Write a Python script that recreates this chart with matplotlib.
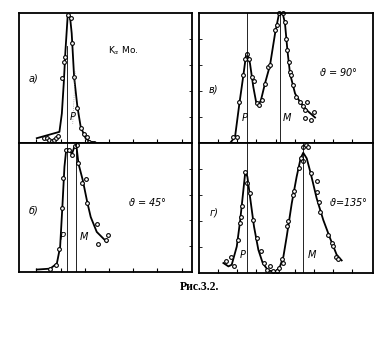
import matplotlib.pyplot as plt

plt.rcParams['font.family'] = ['DejaVu Sans']

# panel a) -- Kalpha Mo, primary line
a_pts_x = [14.1, 16.0, 17.5, 18.9, 20.2, 21.4, 22.7, 25.0, 26.0, 26.6, 28.5, 30.1, 30.8,
           31.8, 33.3, 35.7, 37.6, 39.1, 40.5, 42.0, 43.4]
a_pts_y = [4.1, 3.6, 2.3, 1.5, 2.8, 4.1, 5.4, 50.5, 62.5, 66.0, 98.5, 96.7, 77.2,
           51.0, 26.7, 11.3, 7.4, 4.4, 1.0, 0.0, 0.0]
a_line_x = [10.2, 23.3, 24.7, 25.8, 26.8, 28.1, 29.4, 30.4, 31.8, 33.7, 35.6, 38.5, 41.3]
a_line_y = [3.8, 8.7, 22.8, 46.0, 71.5, 98.5, 97.7, 84.6, 51.0, 28.0, 12.6, 3.6, 1.0]

# panel б) -- 45 deg
b_pts_x = [17.9, 21.4, 23.3, 24.9, 25.6, 27.0, 28.9, 30.8, 32.2, 33.3, 33.9, 36.2, 38.7,
           39.5, 44.9, 45.5, 51.6, 50.3]
b_pts_y = [2.6, 5.7, 18.2, 49.3, 72.6, 94.6, 94.6, 90.7, 97.7, 98.4, 84.7, 69.2, 71.8,
           53.6, 37.6, 22.1, 29.1, 24.6]
b_line_x = [10.2, 17.9, 21.8, 23.7, 25.0, 26.2, 27.2, 28.9, 30.5, 32.0, 33.1, 34.3, 36.8,
            39.5, 41.4, 44.9, 50.7]
b_line_y = [1.9, 2.6, 6.5, 19.4, 50.5, 81.6, 94.6, 95.3, 91.4, 97.4, 98.4, 84.2, 71.3,
            53.6, 42.7, 31.1, 23.3]

# panel в) -- 90 deg
c_pts_x = [19.7, 21.7, 23.2, 25.5, 26.4, 27.8, 28.9, 30.3, 31.6, 33.2, 34.5, 36.0, 37.9,
           39.5, 40.8, 43.7, 45.0, 46.2, 48.5, 49.4, 49.8, 50.8, 51.7, 52.3, 52.9, 54.2,
           55.7, 58.0, 59.6, 61.9, 60.9, 60.9, 64.2, 66.1]
c_pts_y = [4.8, 4.8, 31.8, 52.3, 64.4, 69.0, 64.4, 51.0, 47.9, 31.0, 29.2, 33.1, 45.9,
           58.7, 60.0, 87.4, 90.8, 100.0, 100.0, 93.3, 80.5, 71.5, 62.5, 54.8, 52.3, 44.6,
           35.6, 31.8, 28.5, 31.8, 25.9, 19.0, 18.2, 24.1]
c_line_x = [17.8, 20.7, 23.2, 25.5, 27.0, 27.8, 29.3, 31.2, 32.8, 34.1, 35.6, 37.9, 40.8,
            43.7, 45.8, 48.1, 49.4, 50.8, 52.3, 55.2, 58.0, 61.9, 66.7]
c_line_y = [0.0, 4.8, 30.5, 52.3, 67.7, 69.5, 61.3, 43.3, 31.8, 29.2, 33.1, 45.9, 60.0,
            84.4, 98.5, 100.0, 92.3, 71.5, 53.5, 38.2, 31.8, 25.4, 19.7]

# panel г) -- 135 deg
d_pts_x = [15.5, 18.2, 20.1, 22.6, 23.6, 24.0, 24.9, 26.4, 27.4, 29.3, 31.2, 33.2, 35.5,
           37.4, 39.3, 40.8, 42.7, 44.7, 46.2, 47.5, 48.5, 50.4, 51.3, 53.8, 54.6, 57.6,
           58.4, 59.9, 59.6, 61.5, 62.8, 64.2, 68.0, 68.0, 69.1, 69.5, 74.3, 76.3, 77.2,
           78.7, 80.1]
d_pts_y = [8.9, 12.7, 5.6, 25.6, 38.8, 43.0, 51.7, 78.0, 69.5, 61.9, 40.9, 26.9, 16.6,
           7.7, 2.6, 5.1, 1.2, 1.8, 3.8, 10.7, 7.7, 36.3, 40.4, 60.1, 63.4, 80.6,
           88.3, 86.4, 96.7, 98.5, 96.7, 76.7, 70.8, 62.6, 55.0, 47.3, 29.4, 23.0, 21.0,
           12.7, 10.7]
d_line_x = [14.0, 16.9, 18.8, 21.7, 23.6, 25.1, 26.6, 27.8, 29.3, 31.6, 34.1, 36.6, 39.8,
            44.0, 46.2, 48.5, 50.4, 53.3, 56.1, 58.4, 59.9, 61.9, 64.2, 67.6, 71.4, 75.3,
            79.1, 82.0]
d_line_y = [7.7, 5.1, 6.4, 20.4, 39.9, 58.8, 78.0, 74.1, 58.8, 35.8, 17.9, 7.7, 1.8,
            1.2, 3.8, 12.7, 28.1, 53.7, 74.1, 88.3, 92.6, 88.3, 76.7, 57.6, 40.9, 26.9,
            14.1, 9.7]

left_ticks = [10, 24, 38, 52, 66, 80, 94]
right_ticks = [11, 22, 33, 44, 55, 66, 77, 88]

fig = plt.figure(figsize=(3.91, 3.40), dpi=100)
ax_a = fig.add_axes([0.049, 0.579, 0.442, 0.382])
ax_b = fig.add_axes([0.049, 0.200, 0.442, 0.379])
ax_c = fig.add_axes([0.509, 0.579, 0.445, 0.382])
ax_d = fig.add_axes([0.509, 0.197, 0.445, 0.382])

panels = [
    (ax_a, a_pts_x, a_pts_y, a_line_x, a_line_y, left_ticks, 'right'),
    (ax_b, b_pts_x, b_pts_y, b_line_x, b_line_y, left_ticks, 'right'),
    (ax_c, c_pts_x, c_pts_y, c_line_x, c_line_y, right_ticks, 'left'),
    (ax_d, d_pts_x, d_pts_y, d_line_x, d_line_y, right_ticks, 'left'),
]

for ax, px, py, lx, ly, ticks, yside in panels:
    ax.plot(lx, ly, color='black', lw=1.3, clip_on=False)
    ax.plot(px, py, 'o', ms=2.7, mfc='white', mec='black', mew=0.8, clip_on=False)
    ax.set_xlim(0, 100)
    ax.set_ylim(0, 100)
    ax.set_xticks(ticks)
    ax.set_yticks([20, 40, 60, 80])
    ax.tick_params(axis='x', direction='in', length=3, width=0.8, labelbottom=False)
    if yside == 'right':
        ax.tick_params(axis='y', direction='in', length=2, width=0.6, left=False,
                       right=True, labelleft=False)
    else:
        ax.tick_params(axis='y', direction='in', length=2, width=0.6,
                       labelleft=False)
    for sp in ax.spines.values():
        sp.set_linewidth(1.3)

# vertical P / M lines
ax_a.plot([27.6, 27.6], [0, 75], color='black', lw=0.6)
ax_a.plot([31.0, 32.5], [15, 55], color='gray', lw=0.5, ls=':')
ax_b.axvline(27.6, color='black', lw=0.6)
ax_b.axvline(32.9, color='black', lw=0.6)
ax_c.axvline(27.8, color='black', lw=0.6)
ax_c.axvline(46.6, color='black', lw=0.6)
ax_d.axvline(27.4, color='black', lw=0.6)
ax_d.axvline(59.9, color='black', lw=0.6)

txt = dict(fontsize=7, style='italic', ha='center', va='center')
ax_a.text(8, 50, 'a)', **txt)
ax_a.text(31, 20, 'P', **txt)
ax_a.text(60, 71.5, r'K$_\alpha$ Mo.', fontsize=6.5, ha='center', va='center')

ax_b.text(8.3, 48, 'б)', **txt)
ax_b.text(25, 27, 'P', **txt)
ax_b.text(37.6, 27, 'M', **txt)
ax_b.text(74, 54, r'$\vartheta$ = 45°', **txt)

ax_c.text(8.2, 41, 'в)', **txt)
ax_c.text(26.5, 19, 'P', **txt)
ax_c.text(50.4, 19, 'M', **txt)
ax_c.text(80, 55, r'$\vartheta$ = 90°', **txt)

ax_d.text(8.6, 46.5, 'г)', **txt)
ax_d.text(25, 14, 'P', **txt)
ax_d.text(64.8, 14, 'M', **txt)
ax_d.text(86, 55, r'$\vartheta$=135°', **txt)

fig.text(0.51, 0.156, 'Рис.3.2.', fontsize=8.5, fontweight='bold',
         family='Liberation Serif', ha='center', va='center')

fig.savefig('out.png', dpi=100)
